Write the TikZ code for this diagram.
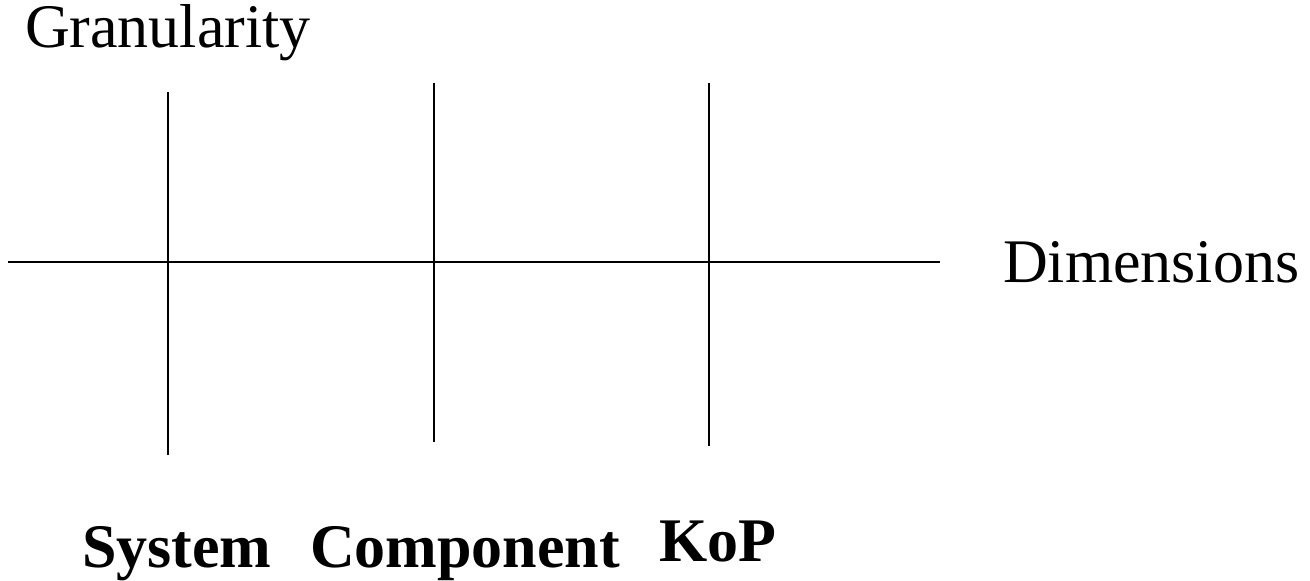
\documentclass[tikz,border=0pt]{standalone}
\usepackage{fontspec}
\setmainfont{Liberation Serif}
\usetikzlibrary{positioning}

\begin{document}
\begin{tikzpicture}[x=1pt,y=-1pt,line width=2pt,
    every node/.style={inner sep=0pt,anchor=base west,font=\fontsize{62}{70}\selectfont},
    level/.style={font=\fontsize{62}{70}\selectfont\bfseries}]
    \useasboundingbox (0,0) rectangle (1310,581);
    % axes
    \coordinate (left) at (8,262);
    \coordinate (right) at (940,262);
    \draw (left) -- (right);
    \foreach \name/\x/\top/\bot in {sys/168/92/455,comp/434/83/442,kop/709/83/446} {
      \coordinate (\name top) at (\x,\top);
      \coordinate (\name bot) at (\x,\bot);
      \draw (\name top) -- (\name bot);
    }
    % labels
    \node (granularity) at (24,47) {Granularity};
    \node (dimensions) at (1002,282) {Dimensions};
    \node[level] (system) at (81,567) {System};
    \node[level] (component) at (309,567) {Component};
    \node[level] (kop) at (658,561) {KoP};
  \end{tikzpicture}
\end{document}
